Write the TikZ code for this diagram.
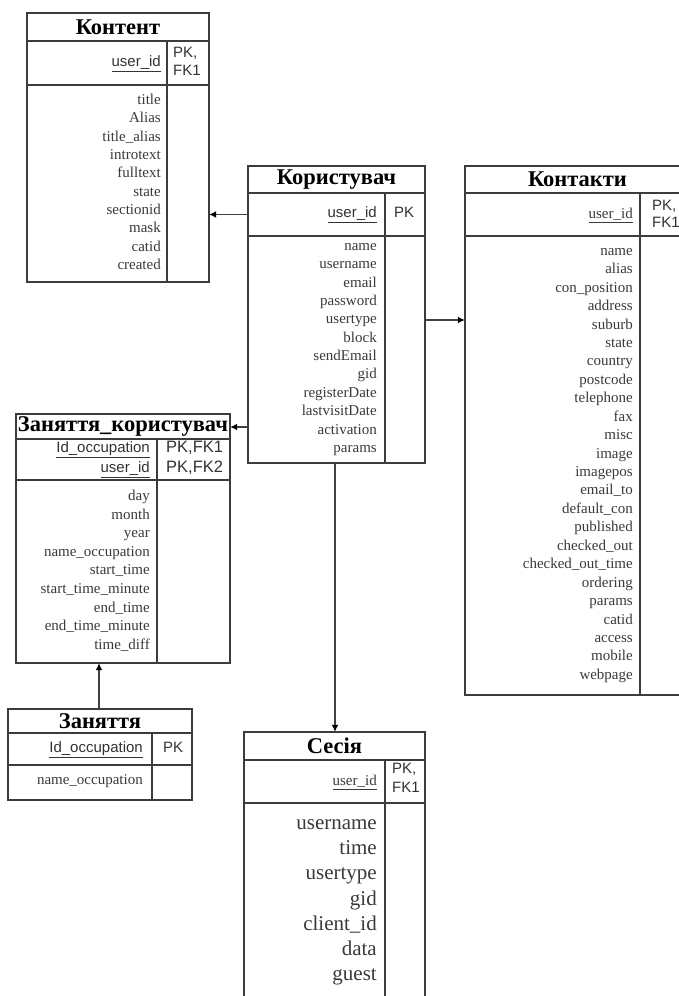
\documentclass[tikz,border=0pt]{standalone}
\usepackage{fontspec}
\setmainfont{Liberation Serif}
\newfontfamily\sansf{Liberation Sans}
\usetikzlibrary{arrows.meta,fit}

\definecolor{framec}{HTML}{3C3C3C}
\definecolor{fldc}{HTML}{3A3A3A}
\definecolor{keyc}{HTML}{333333}

\tikzset{
  frame/.style={draw=framec, line width=1.6pt},
  ttl/.style={font=\fontsize{22.5}{22.5}\selectfont\bfseries, text=black, inner sep=0},
  fld/.style={font=\fontsize{15}{15}\selectfont, text=fldc, anchor=east, inner sep=0,
    text height=0.68em, text depth=0.2em},
  bigfld/.style={fld, font=\fontsize{21}{21}\selectfont},
  keysans/.style={font=\sansf\fontsize{15}{15}\selectfont, text=keyc, anchor=east, inner sep=0,
    text height=0.72em, text depth=0.2em},
  keyserif/.style={fld},
  pk/.style={font=\sansf\fontsize{15}{15}\selectfont, text=keyc, anchor=west, inner sep=0,
    text height=0.72em, text depth=0.2em},
  pkwide/.style={pk, font=\sansf\fontsize{16.5}{16.5}\selectfont},
  link/.style={draw=black!75, line width=1.4pt, -{Latex[length=7pt,width=7pt,color=black]}},
}

% entity box: name, left, top, right, title bottom, key bottom, divider x, bottom, title
\newcommand\erbox[9]{%
  \draw[frame] (#2,#3) rectangle (#4,#8);
  \draw[frame] (#2,#5) -- (#4,#5);
  \draw[frame] (#2,#6) -- (#4,#6);
  \draw[frame] (#7,#5) -- (#7,#8);
  \node[fit={(#2,#3) (#4,#8)}, inner sep=0] (#1) {};
  \node[fit={(#2,#5) (#4,#6)}, inner sep=0] (#1-key) {};
  \node[ttl] (#1-title) at ({(#2+#4)/2},{(#3+#5)/2}) {#9};
}
% column of attribute names: prefix, right x, first y, step, style, list
\newcommand\erfields[6]{%
  \foreach \f [count=\i from 0] in {#6}
    \node[#5] (#1-f\i) at (#2,{#3+\i*#4}) {\f};
}

\begin{document}
\begin{tikzpicture}[x=1pt,y=-1pt]
\useasboundingbox (0,0) rectangle (679,996);
\clip (0,0) rectangle (679,996);
\fill[white] (0,0) rectangle (679,996);

% Контент
\erbox{ktn}{27}{13}{209}{41}{85}{167}{282}{Контент}
\node[keysans] (ktn-id) at (161,64) {\underline{user\_id}};
\node[pk] (ktn-pk1) at (173,55) {PK,};
\node[pk] (ktn-pk2) at (173,73) {FK1};
\erfields{ktn}{161}{102}{18.33}{fld}{title,Alias,title\_alias,introtext,fulltext,state,sectionid,mask,catid,created}

% Користувач
\erbox{kor}{248}{166}{425}{193}{236}{385}{463}{Користувач}
\node[keysans] (kor-id) at (377,215) {\underline{user\_id}};
\node[pk] (kor-pk) at (394,215) {PK};
\erfields{kor}{377}{248}{18.36}{fld}{name,username,email,password,usertype,block,sendEmail,gid,registerDate,lastvisitDate,activation,params}

% Контакти
\erbox{knt}{465}{166}{690}{193}{236}{640}{695}{Контакти}
\node[keyserif] (knt-id) at (633,216) {\underline{user\_id}};
\node[pk] (knt-pk1) at (652,208) {PK,};
\node[pk] (knt-pk2) at (652,225) {FK1};
\erfields{knt}{633}{253}{18.43}{fld}{name,alias,con\_position,address,suburb,state,country,postcode,telephone,fax,misc,image,imagepos,email\_to,default\_con,published,checked\_out,checked\_out\_time,ordering,params,catid,access,mobile,webpage}

% Заняття_користувач
\erbox{zk}{16}{414}{230}{439}{480}{157}{663}{Заняття\_користувач}
\node[keysans] (zk-id1) at (150,450) {\underline{Id\_occupation}};
\node[keysans] (zk-id2) at (150,470) {\underline{user\_id}};
\node[pkwide] (zk-pk1) at (166,450) {PK,FK1};
\node[pkwide] (zk-pk2) at (166,470) {PK,FK2};
\erfields{zk}{150}{498}{18.6}{fld}{day,month,year,name\_occupation,start\_time,start\_time\_minute,end\_time,end\_time\_minute,time\_diff}

% Заняття
\erbox{zn}{8}{709}{192}{733}{765}{152}{800}{Заняття}
\node[keysans] (zn-id) at (143,750) {\underline{Id\_occupation}};
\node[pk] (zn-pk) at (163,750) {PK};
\erfields{zn}{143}{782}{0}{fld}{name\_occupation}

% Сесія
\erbox{ss}{244}{732}{425}{760}{803}{385}{1010}{Сесія}
\node[keyserif] (ss-id) at (377,783) {\underline{user\_id}};
\node[pk] (ss-pk1) at (392,771) {PK,};
\node[pk] (ss-pk2) at (392,790) {FK1};
\erfields{ss}{377}{827}{25.2}{bigfld}{username,time,usertype,gid,client\_id,data,guest}

% relationships
\coordinate (kor-right) at (425,320);
\coordinate (kor-left) at (248,427);
\coordinate (kor-bottom) at (335,463);
\coordinate (zn-top) at (99,709);
\draw[link] (kor-key.west) -- (kor-key.west -| ktn.east);
\draw[link] (kor-right) -- (kor-right -| knt.west);
\draw[link] (kor-left) -- (kor-left -| zk.east);
\draw[link] (zn-top) -- (zn-top |- zk.south);
\draw[link] (kor-bottom) -- (kor-bottom |- ss.north);
\end{tikzpicture}
\end{document}
